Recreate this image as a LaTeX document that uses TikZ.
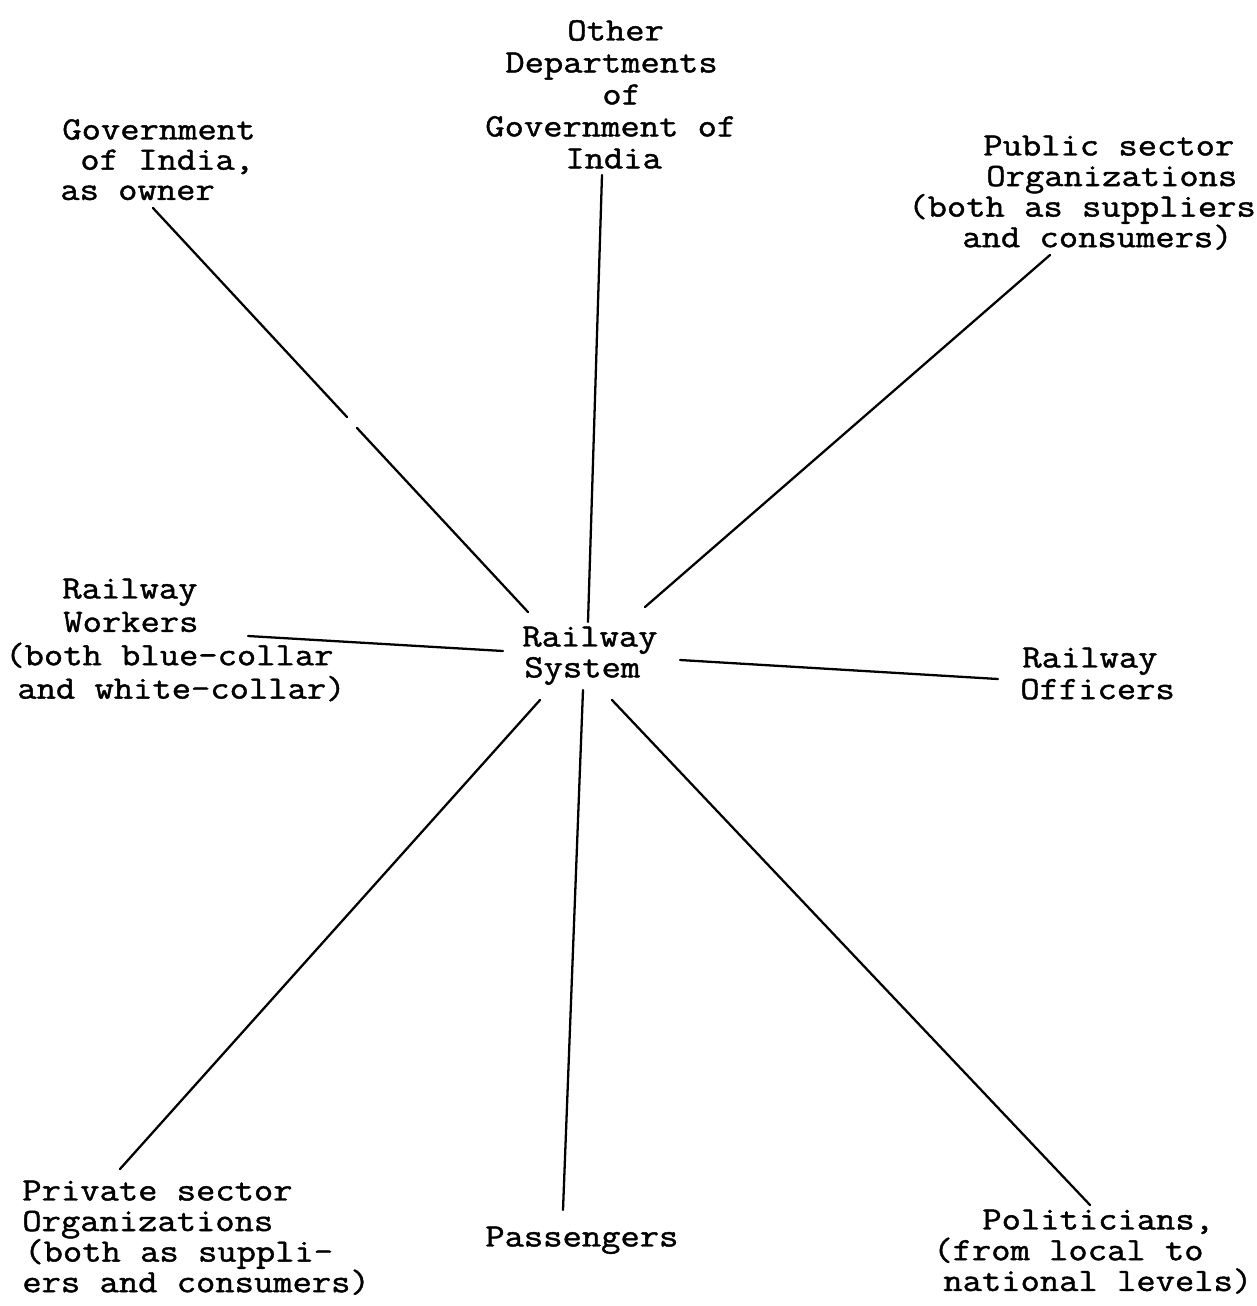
\documentclass[tikz,border=0pt]{standalone}
\usepackage{fontspec}
\newfontfamily\twfont{Latin Modern Mono}[FakeBold=1.3,FakeStretch=1.15]
\newdimen\pxu \pxu=0.02cm
\newcommand\padx[1]{\hspace*{#1\pxu}}
\newcommand\tstrut{\rule{0pt}{16pt}}
\begin{document}
\begin{tikzpicture}[x=0.02cm,y=-0.02cm,
  lbl/.style={font={\twfont\fontsize{18.55pt}{#1}\selectfont\lineskiplimit=-50pt\lineskip=0pt},align=left,anchor=north west,inner sep=0pt},
  lbl/.default=17.5pt,
  spoke/.style={line width=1.3pt,line cap=round}]
\useasboundingbox (0,0) rectangle (1257,1306);
% labels
\node[lbl=17.2pt] (gov) at (60,111) {\tstrut\padx{2}Government\\\padx{20}of India,\\as owner};
\node[lbl=18.2pt] (oth) at (485,12) {\tstrut\padx{82}Other\\\padx{20}Departments\\\padx{117}of\\Government of\\\padx{80}India};
\node[lbl=17.4pt] (pub) at (908,127) {\tstrut\padx{75}Public sector\\\padx{78}Organizations\\(both as suppliers\\\padx{54}and consumers)};
\node[lbl=19pt] (wrk) at (5,570) {\tstrut\padx{57}Railway\\\padx{58}Workers\\(both blue-collar\\\padx{12}and white-collar)};
\node[lbl=17.6pt] (sys) at (522,618) {\tstrut Railway\\\padx{2}System};
\node[lbl=18pt] (off) at (1020,639) {\tstrut\padx{2}Railway\\Officers};
\node[lbl=17.4pt] (pri) at (22,1172) {\tstrut Private sector\\Organizations\\\padx{2}(both as suppli-\\ers and consumers)};
\node[lbl] (pas) at (485,1218) {\tstrut Passengers};
\node[lbl=17.5pt] (pol) at (933,1201) {\tstrut\padx{49}Politicians,\\(from local to\\\padx{10}national levels)};
% connector end points
\coordinate (g1) at (153,208); \coordinate (g2) at (347,417);
\coordinate (g3) at (357,428); \coordinate (g4) at (528,612);
\coordinate (o1) at (602,175); \coordinate (o2) at (588,622);
\coordinate (p1) at (1050,255); \coordinate (p2) at (645,607);
\coordinate (w1) at (248,636); \coordinate (w2) at (503,651);
\coordinate (f1) at (680,660); \coordinate (f2) at (998,679);
\coordinate (r1) at (540,700); \coordinate (r2) at (120,1169);
\coordinate (s1) at (583,690); \coordinate (s2) at (563,1210);
\coordinate (l1) at (612,700); \coordinate (l2) at (1090,1205);
% spokes
\draw[spoke] (g1) -- (g2);
\draw[spoke] (g3) -- (g4);
\draw[spoke] (o1) -- (o2);
\draw[spoke] (p1) -- (p2);
\draw[spoke] (w1) -- (w2);
\draw[spoke] (f1) -- (f2);
\draw[spoke] (r1) -- (r2);
\draw[spoke] (s1) -- (s2);
\draw[spoke] (l1) -- (l2);
\end{tikzpicture}
\end{document}
